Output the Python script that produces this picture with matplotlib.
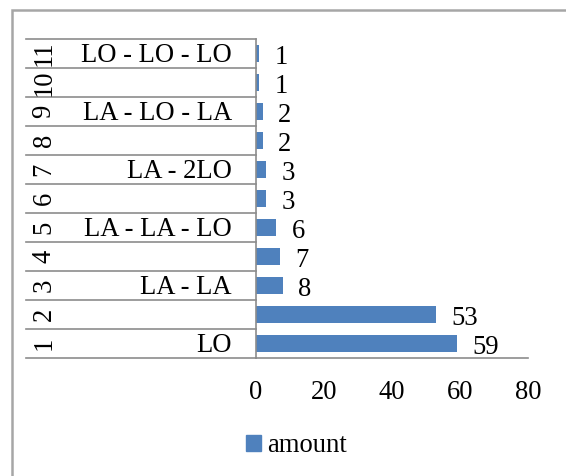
import matplotlib
matplotlib.use("Agg")
import matplotlib.pyplot as plt
import matplotlib.transforms as mtransforms
from matplotlib.patches import Rectangle

# data (bottom to top)
positions = [1, 2, 3, 4, 5, 6, 7, 8, 9, 10, 11]
amounts = [59, 53, 8, 7, 6, 3, 3, 2, 2, 1, 1]
groups = ["LO", "", "LA - LA", "", "LA - LA - LO", "", "LA - 2LO", "",
          "LA - LO - LA", "", "LO - LO - LO"]
xticks = [0, 20, 40, 60, 80]

plt.rcParams['font.family'] = ['Liberation Serif', 'DejaVu Serif']
plt.rcParams['font.size'] = 19.2

W, H = 566, 476
fig = plt.figure(figsize=(W / 100, H / 100), dpi=100)
ax = fig.add_axes([256 / W, 1 - 358 / H, (528 - 256) / W, (358 - 39) / H])

ax.barh(positions, amounts, height=0.58, color='#4F81BD')
ax.set_xlim(0, 80)
ax.set_ylim(0.5, 11.5)
ax.set_xticks(xticks)
ax.set_yticks([])
ax.tick_params(axis='x', length=0, pad=16)

gray = '#8c8c8c'
for side in ['top', 'right']:
    ax.spines[side].set_visible(False)
for side in ['left', 'bottom']:
    ax.spines[side].set_color(gray)
    ax.spines[side].set_linewidth(1.2)

# value labels
for p, v in zip(positions, amounts):
    ax.annotate(str(v), (v, p), xytext=(11, -3), textcoords='offset points',
                ha='left', va='center')

# multi-level category axis
trans = mtransforms.blended_transform_factory(ax.transAxes, ax.transData)
x_left = (26 - 256) / (528 - 256)
for b in [p - 0.5 for p in positions] + [positions[-1] + 0.5]:
    ax.plot([x_left, 0], [b, b], transform=trans, color=gray, lw=1.2,
            clip_on=False)
x_num = (44 - 256) / (528 - 256)
x_grp = (232 - 256) / (528 - 256)
shift = mtransforms.ScaledTranslation(0, -2 / 100, fig.dpi_scale_trans)
for p, g in zip(positions, groups):
    ax.text(x_num, p, str(p), transform=trans, rotation=90,
            ha='center', va='center')
    if g:
        ax.text(x_grp, p, g, transform=trans + shift, ha='right', va='center')

# legend
leg = fig.legend([Rectangle((0, 0), 1, 1, color='#4F81BD')], ['amount'],
                 loc='center left', bbox_to_anchor=(246 / W, 1 - 446 / H),
                 frameon=False, handlelength=0.55, handleheight=0.55,
                 handletextpad=0.25, borderpad=0, borderaxespad=0)

# chart frame
fig.add_artist(Rectangle((12 / W, -0.1), 1.2, 1.1 - 10 / H,
                         transform=fig.transFigure, fill=False,
                         ec='#a6a6a6', lw=1.8))

fig.savefig("out.png", dpi=100)
